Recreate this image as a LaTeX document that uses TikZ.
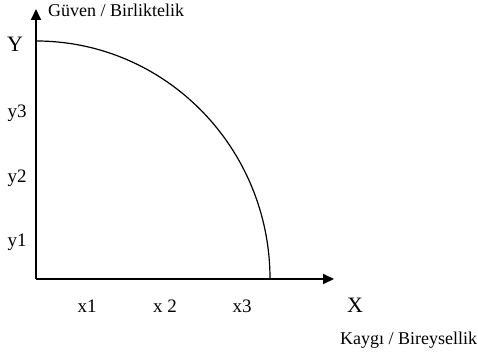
\documentclass[tikz,border=0pt]{standalone}
\usepackage{fontspec}
\setmainfont{Liberation Serif}
\usetikzlibrary{arrows.meta}
\begin{document}
\begin{tikzpicture}[x=1pt,y=1pt,
  axis/.style={line width=1.8pt,-{Triangle[length=11pt,width=10pt]}},
  curveline/.style={line width=1.2pt},
  lbl/.style={inner sep=0pt,font=\fontsize{18}{21}\selectfont},
  tick/.style={inner sep=0pt,anchor=base,font=\fontsize{19}{22}\selectfont},
  big/.style={inner sep=0pt,anchor=base,font=\fontsize{22}{26}\selectfont}]
\useasboundingbox (0,0) rectangle (478,352);
\coordinate (O) at (36,73);
\coordinate (xe) at (334,73);
\coordinate (ye) at (36,343);
\coordinate (cs) at (36,311);
\draw[axis] (O) -- (xe);
\draw[axis] (O) -- (ye);
\draw[curveline] (cs) arc[start angle=90,end angle=0,x radius=234,y radius=238];
\node[lbl,anchor=base west] (gv) at (48,335) {Güven / Birliktelik};
\node[lbl,anchor=base west] (kb) at (340,7) {Kaygı / Bireysellik};
\node[big] (Y) at (15,300) {Y};
\node[big] (X) at (355,39) {X};
\node[tick] (y3) at (17,234) {y3};
\node[tick] (y2) at (17,169) {y2};
\node[tick] (y1) at (17,105) {y1};
\node[tick] (x1) at (87,39) {x1};
\node[tick] (x2) at (165,39) {x 2};
\node[tick] (x3) at (242,39) {x3};
\end{tikzpicture}
\end{document}
